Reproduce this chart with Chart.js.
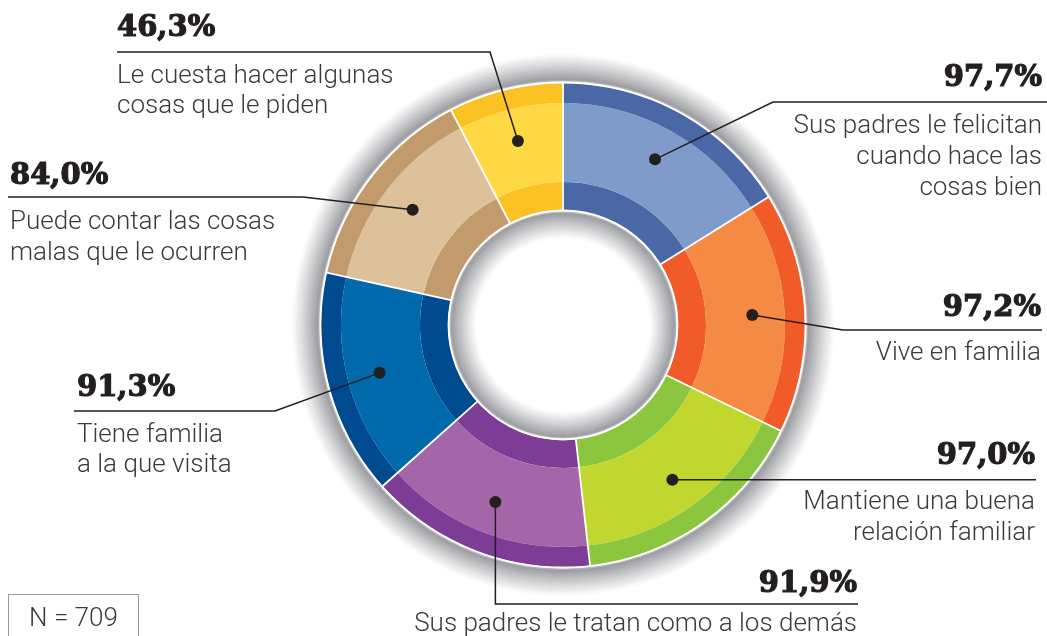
<!DOCTYPE html>
<html>
<head>
<meta charset="utf-8">
<script src="https://cdn.jsdelivr.net/npm/chart.js@4/dist/chart.umd.min.js"></script>
<style>
  html, body { margin: 0; padding: 0; background: #fff; }
  #wrap { position: relative; width: 1047px; height: 636px; }
  #nbox { position: absolute; left: 8px; top: 594px; width: 131px; height: 50px; border: 1px solid #9a9a9a;
          box-sizing: border-box; font: 300 26px Roboto; color: #3a3a3a; text-align: center; line-height: 44px; }
</style>
</head>
<body>
<div id="wrap">
  <canvas id="donut" width="1047" height="636"></canvas>
  <div id="nbox"></div>
</div>
<script>
// Data (clockwise from 12 o'clock)
const categories = [
  ['Sus padres le felicitan', 'cuando hace las', 'cosas bien'],
  ['Vive en familia'],
  ['Mantiene una buena', 'relación familiar'],
  ['Sus padres le tratan como a los demás'],
  ['Tiene familia', 'a la que visita'],
  ['Puede contar las cosas', 'malas que le ocurren'],
  ['Le cuesta hacer algunas', 'cosas que le piden']
];
const values = [97.7, 97.2, 97.0, 91.9, 91.3, 84.0, 46.3];
const sampleSize = 709;

const darkColors  = ['#4a67a6', '#f15a29', '#8cc63f', '#7d3c96', '#004a8f', '#c39a6b', '#fcc223'];
const lightColors = ['#7f9bc9', '#f48a43', '#c1d72f', '#a566a9', '#006aac', '#dcc19a', '#ffd944'];

// Callout layout: elbow of the leader line, end of the rule, text anchor
const callouts = [
  { elbow: [773, 102], ruleTo: 1047, align: 'right', x: 1042, pctY: 78,  textY: 126, lh: 31 },
  { elbow: [843, 330], ruleTo: 1042, align: 'right', x: 1041, pctY: 308, textY: 353, lh: 31 },
  { elbow: null,       ruleTo: 1036, align: 'right', x: 1035, pctY: 456, textY: 502, lh: 31 },
  { elbow: 'down',     ruleTo: 858,  align: 'right', x: 857,  pctY: 584, textY: 624, lh: 31, ruleY: 604 },
  { elbow: [275, 411], ruleTo: 74,   align: 'left',  x: 77,   pctY: 388, textY: 435, lh: 30 },
  { elbow: [303, 197], ruleTo: 8,    align: 'left',  x: 10,   pctY: 176, textY: 222, lh: 31 },
  { elbow: [490, 52],  ruleTo: 117,  align: 'left',  x: 117,  pctY: 28,  textY: 76,  lh: 30 }
];

const pctText = v => v.toFixed(1).replace('.', ',') + '%';

// halo: overlapping 3px rings, each faint, so the fade comes out smooth
function drawHalo(ctx, cx, cy, from, dir, steps) {
  ctx.lineWidth = 3;
  for (let i = 0; i < steps; i++) {
    const t = i / steps;
    const target = 0.72 * Math.pow(1 - t, 1.1);
    const a = 1 - Math.pow(1 - target, 1 / 3);
    ctx.strokeStyle = 'rgba(112,114,120,' + a.toFixed(3) + ')';
    ctx.beginPath();
    ctx.arc(cx, cy, from + dir * (i + 0.5), 0, Math.PI * 2);
    ctx.stroke();
  }
}

const decorPlugin = {
  id: 'decor',
  afterDraw(chart) {
    const ctx = chart.ctx;
    const outerArcs = chart.getDatasetMeta(0).data;
    const midArcs = chart.getDatasetMeta(1).data;
    const innerArc = chart.getDatasetMeta(2).data[0];
    const cx = outerArcs[0].x, cy = outerArcs[0].y;
    const R = outerArcs[0].outerRadius, r = innerArc.innerRadius;

    ctx.save();
    // keep the halo off the ring itself
    ctx.beginPath();
    ctx.rect(0, 0, chart.width, chart.height);
    ctx.arc(cx, cy, R + 1, 0, Math.PI * 2, true);
    ctx.moveTo(cx + r - 1, cy);
    ctx.arc(cx, cy, r - 1, 0, Math.PI * 2, false);
    ctx.clip();
    drawHalo(ctx, cx, cy, R + 2, 1, 27);
    drawHalo(ctx, cx, cy, r - 2, -1, 26);
    ctx.restore();

    ctx.save();
    ctx.strokeStyle = '#ffffff';
    ctx.lineWidth = 1.8;
    outerArcs.forEach(a => {
      const t = a.startAngle;
      ctx.beginPath();
      ctx.moveTo(cx + Math.cos(t) * r, cy + Math.sin(t) * r);
      ctx.lineTo(cx + Math.cos(t) * R, cy + Math.sin(t) * R);
      ctx.stroke();
    });
    ctx.beginPath(); ctx.arc(cx, cy, R + 0.5, 0, Math.PI * 2); ctx.stroke();
    ctx.beginPath(); ctx.arc(cx, cy, r - 0.5, 0, Math.PI * 2); ctx.stroke();

    midArcs.forEach((arc, i) => {
      const c = callouts[i];
      const mid = (arc.startAngle + arc.endAngle) / 2;
      const rad = (arc.innerRadius + arc.outerRadius) / 2 + 7;
      const px = cx + Math.cos(mid) * rad, py = cy + Math.sin(mid) * rad;
      ctx.strokeStyle = '#231f20';
      ctx.lineWidth = 1.5;
      ctx.beginPath();
      ctx.moveTo(px, py);
      let ruleY;
      if (c.elbow === null) {
        ruleY = py;
      } else if (c.elbow === 'down') {
        ruleY = c.ruleY;
        ctx.lineTo(px, ruleY);
      } else {
        ruleY = c.elbow[1];
        ctx.lineTo(c.elbow[0], c.elbow[1]);
      }
      ctx.lineTo(c.ruleTo, ruleY);
      ctx.stroke();

      ctx.fillStyle = '#231f20';
      ctx.beginPath();
      ctx.arc(px, py, 6, 0, Math.PI * 2);
      ctx.fill();

      ctx.textAlign = c.align;
      ctx.textBaseline = 'middle';
      ctx.font = 'bold 29px "DejaVu Serif"';
      ctx.lineWidth = 1.2;
      ctx.fillText(pctText(values[i]), c.x, c.pctY);
      ctx.strokeText(pctText(values[i]), c.x, c.pctY);

      ctx.font = '300 26px Roboto';
      ctx.fillStyle = '#3a3a3a';
      categories[i].forEach((line, k) => ctx.fillText(line, c.x, c.textY + k * c.lh));
    });
    ctx.restore();
  }
};

const ringDataset = (colors, weight) => ({
  data: values,
  backgroundColor: colors,
  borderWidth: 0,
  weight: weight
});

new Chart(document.getElementById('donut'), {
  type: 'doughnut',
  data: {
    labels: categories.map(c => c.join(' ')),
    datasets: [
      ringDataset(darkColors, 20),
      ringDataset(lightColors, 79),
      ringDataset(darkColors, 28)
    ]
  },
  options: {
    responsive: false,
    animation: false,
    events: [],
    cutout: 115,
    layout: { padding: { left: 321, right: 242, top: 83, bottom: 69 } },
    plugins: { legend: { display: false }, tooltip: { enabled: false } }
  },
  plugins: [decorPlugin]
});

document.getElementById('nbox').textContent = 'N = ' + sampleSize;
</script>
</body>
</html>
